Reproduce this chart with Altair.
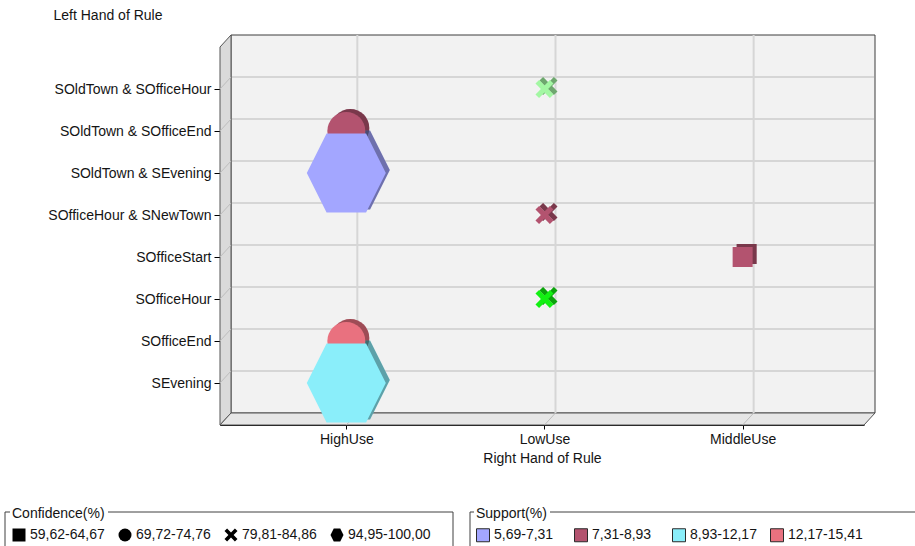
import altair as alt
import pandas as pd

# ---- association rules: left hand side, right hand side, confidence bin, support bin
lhs_items = [
    "SOldTown & SOfficeHour",
    "SOldTown & SOfficeEnd",
    "SOldTown & SEvening",
    "SOfficeHour & SNewTown",
    "SOfficeStart",
    "SOfficeHour",
    "SOfficeEnd",
    "SEvening",
]
rhs_items = ["LowUse", "HighUse", "HighUse", "LowUse", "MiddleUse", "LowUse", "HighUse", "HighUse"]
confidence_bins = [
    "79,81-84,86", "69,72-74,76", "94,95-100,00", "79,81-84,86",
    "59,62-64,67", "79,81-84,86", "69,72-74,76", "94,95-100,00",
]
support_bins = [
    "15,41-18,65", "7,31-8,93", "5,69-7,31", "7,31-8,93",
    "7,31-8,93", "18,65-21,89", "12,17-15,41", "8,93-12,17",
]

rhs_order = ["HighUse", "LowUse", "MiddleUse"]
confidence_order = ["59,62-64,67", "69,72-74,76", "79,81-84,86", "94,95-100,00"]
support_order = ["5,69-7,31", "7,31-8,93", "8,93-12,17", "12,17-15,41", "15,41-18,65", "18,65-21,89"]

# ---- styling
FONT = "Liberation Sans"
TXT = "#141414"
support_colors = ["#a3a6ff", "#b3536f", "#8aeefa", "#e9717f", "#a3f7a3", "#12f012"]
X_PATH = ("M-1,-0.6L-0.6,-1L0,-0.4L0.6,-1L1,-0.6L0.4,0L1,0.6L0.6,1L0,0.4"
          "L-0.6,1L-1,0.6L-0.4,0Z")
HEX_PATH = "M-1,0L-0.5,-1L0.5,-1L1,0L0.5,1L-0.5,1Z"
shape_range = ["square", "circle", X_PATH, HEX_PATH]
size_range = [400, 1444, 324, 6241]

W, H = 644, 378          # front face of the plot box
DX, DY = 11, -12         # depth of the 3D box
SH_X, SH_Y = 4, -3       # extrusion of the markers
GRID = "#d6d6d6"
EDGE = "#3c3c3c"

rules = pd.DataFrame({
    "lhs": lhs_items,
    "rhs": rhs_items,
    "confidence": confidence_bins,
    "support": support_bins,
})
xcats = pd.DataFrame({"rhs": rhs_order})
ycats = pd.DataFrame({"lhs": lhs_items})
one = alt.Data(values=[{"k": 0}])

x_scale = alt.Scale(type="point", domain=rhs_order, padding=0.625, align=0.51)
y_scale = alt.Scale(type="point", domain=lhs_items, padding=1)

x_axis = alt.Axis(
    title="Right Hand of Rule", labelAngle=0, grid=False,
    domainColor="#000", domainWidth=1, tickColor="#000", tickSize=4,
    labelFont=FONT, labelFontSize=14, labelColor=TXT, labelPadding=3,
    titleFont=FONT, titleFontSize=14, titleFontWeight="normal", titleColor=TXT,
    titlePadding=5,
)
y_axis = alt.Axis(
    title="Left Hand of Rule", grid=False,
    domainColor="#000", domainWidth=1, tickColor="#000", tickSize=6,
    labelFont=FONT, labelFontSize=14, labelColor=TXT, labelPadding=3, labelLimit=300,
    titleFont=FONT, titleFontSize=14, titleFontWeight="normal", titleColor=TXT,
    titleAngle=0, titleAlign="left", titleBaseline="middle", titleX=-167, titleY=-32,
)

X = alt.X("rhs:N", scale=x_scale, axis=x_axis)
Y = alt.Y("lhs:N", scale=y_scale, axis=y_axis)

# ---- the 3D box: back wall, left wall, floor
back_wall = alt.Chart(one).mark_rect(fill="#f2f2f2", stroke=EDGE, strokeWidth=1).encode(
    x=alt.value(DX), x2=alt.value(W + DX), y=alt.value(DY), y2=alt.value(H + DY)
)
side_wall = alt.Chart(one).mark_point(
    shape=f"M0,0L{DX},{DY}L{DX},{H + DY}L0,{H}Z", size=4, filled=True,
    fill="#dadada", stroke="#555", strokeWidth=1, opacity=1,
).encode(x=alt.value(0), y=alt.value(0))
floor = alt.Chart(one).mark_point(
    shape=f"M0,{H}L{DX},{H + DY}L{W + DX},{H + DY}L{W},{H}Z", size=4, filled=True,
    fill="#e6e6e6", stroke="#555", strokeWidth=1, opacity=1,
).encode(x=alt.value(0), y=alt.value(0))

grid_v = alt.Chart(xcats).mark_rule(color=GRID, strokeWidth=2, xOffset=DX).encode(
    x=X, y=alt.value(DY), y2=alt.value(H + DY)
)
grid_h = alt.Chart(ycats).mark_rule(color=GRID, strokeWidth=2, yOffset=DY).encode(
    y=Y, x=alt.value(DX + 1), x2=alt.value(W + DX - 1)
)
floor_diag = alt.Chart(xcats).mark_rule(color="#bdbdbd", strokeWidth=1, x2Offset=DX).encode(
    x=X, x2="rhs:N", y=alt.value(H), y2=alt.value(H + DY)
)
side_diag = alt.Chart(ycats).mark_rule(color="#bdbdbd", strokeWidth=1, y2Offset=DY).encode(
    y=Y, y2="lhs:N", x=alt.value(0), x2=alt.value(DX)
)

# ---- rule markers
shape_enc = alt.Shape(
    "confidence:N",
    scale=alt.Scale(domain=confidence_order, range=shape_range),
    legend=alt.Legend(
        title="Confidence(%)", orient="none", legendX=-208, legendY=460,
        direction="horizontal", columns=4, gridAlign="all", columnPadding=5,
        symbolSize=169, symbolFillColor="#000", symbolStrokeColor="#000",
        symbolStrokeWidth=0, symbolOpacity=1, labelOffset=4,
        labelFont=FONT, labelFontSize=14, labelColor=TXT,
        titleFont=FONT, titleFontSize=14, titleFontWeight="normal", titleColor=TXT,
        titlePadding=7, padding=0,
    ),
)
# marker size follows the confidence bin; listed in reverse so its (hidden)
# legend is kept apart from the shape legend
size_enc = alt.Size(
    "marker_class:N",
    scale=alt.Scale(type="ordinal", domain=confidence_order[::-1], range=size_range[::-1]),
    legend=None,
)
fill_enc = alt.Fill(
    "support:N",
    scale=alt.Scale(domain=support_order, range=support_colors),
    legend=alt.Legend(
        title="Support(%)", orient="none", legendX=256, legendY=460,
        values=support_order[:4],
        direction="horizontal", columns=4, gridAlign="all", columnPadding=3,
        symbolType="square", symbolSize=169, symbolStrokeColor="#2a2a2a",
        symbolStrokeWidth=1, symbolOpacity=1, labelOffset=4,
        labelFont=FONT, labelFontSize=14, labelColor=TXT,
        titleFont=FONT, titleFontSize=14, titleFontWeight="normal", titleColor=TXT,
        titlePadding=7, padding=0,
    ),
)

base = alt.Chart(rules).transform_calculate(marker_class="datum.confidence")

extrude = base.mark_point(
    filled=True, opacity=1, strokeWidth=0, xOffset=SH_X, yOffset=SH_Y
).encode(x=X, y=Y, shape=shape_enc, size=size_enc, fill=fill_enc)
extrude_dark = base.mark_point(
    filled=True, fill="#000", opacity=0.32, strokeWidth=0, xOffset=SH_X, yOffset=SH_Y
).encode(x=X, y=Y, shape=shape_enc, size=size_enc)
markers = base.mark_point(filled=True, opacity=1, strokeWidth=0).encode(
    x=X, y=Y, shape=shape_enc, size=size_enc, fill=fill_enc,
    tooltip=["lhs", "rhs", "confidence", "support"],
)

# ---- group boxes around the two legends
box_color = "#404040"
box_top = 465
box_bottom = 520
conf_box = [
    alt.Chart(one).mark_rule(color=box_color).encode(
        x=alt.value(-215), x2=alt.value(-210), y=alt.value(box_top)),
    alt.Chart(one).mark_rule(color=box_color).encode(
        x=alt.value(-112), x2=alt.value(233), y=alt.value(box_top)),
    alt.Chart(one).mark_rule(color=box_color).encode(
        x=alt.value(-215), y=alt.value(box_top), y2=alt.value(box_bottom)),
    alt.Chart(one).mark_rule(color=box_color).encode(
        x=alt.value(233), y=alt.value(box_top), y2=alt.value(box_bottom)),
]
supp_box = [
    alt.Chart(one).mark_rule(color=box_color).encode(
        x=alt.value(250), x2=alt.value(254), y=alt.value(box_top)),
    alt.Chart(one).mark_rule(color=box_color).encode(
        x=alt.value(330), x2=alt.value(720), y=alt.value(box_top)),
    alt.Chart(one).mark_rule(color=box_color).encode(
        x=alt.value(250), y=alt.value(box_top), y2=alt.value(box_bottom)),
]

chart = alt.layer(
    back_wall, side_wall, floor, grid_h, grid_v, floor_diag, side_diag,
    extrude, extrude_dark, markers, *conf_box, *supp_box,
).properties(
    width=W, height=H,
    autosize=alt.AutoSizeParams(type="none"),
    padding={"left": 220, "top": 47, "right": 51, "bottom": 121},
    background="#ffffff",
).configure_view(strokeWidth=0)

chart.save("out.html", embed_options={"renderer": "svg", "actions": False})
